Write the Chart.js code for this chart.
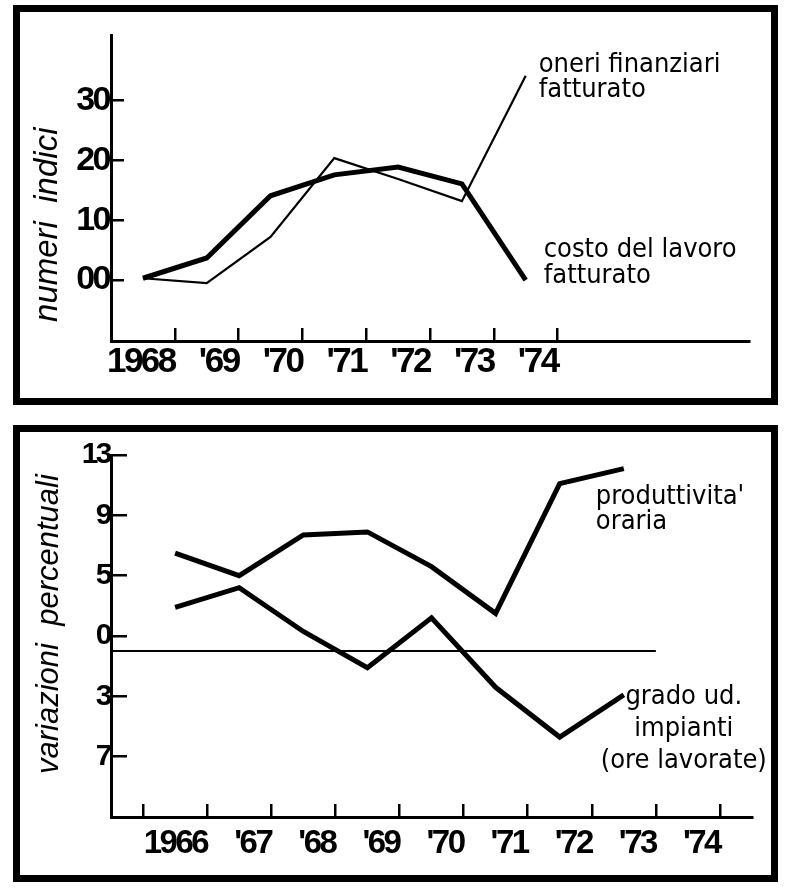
<!DOCTYPE html>
<html>
<head>
<meta charset="utf-8">
<script src="https://cdn.jsdelivr.net/npm/chart.js@4.4.1/dist/chart.umd.min.js"></script>
<style>
  body { margin: 0; background: #fff; }
  .frame { position: absolute; left: 13px; width: 751px; border: 7px solid #000; background: #fff; }
  #f1 { top: 5px; height: 386px; }
  #f2 { top: 425px; height: 443px; }
  canvas { display: block; }
</style>
</head>
<body>
<div class="frame" id="f1"><canvas id="c1" width="751" height="386"></canvas></div>
<div class="frame" id="f2"><canvas id="c2" width="751" height="443"></canvas></div>
<script>
// top panel: numeri indici
var years1 = ['1968', "'69", "'70", "'71", "'72", "'73", "'74"];
var costoLavoro = [0.3, 3.7, 14.1, 17.6, 18.9, 16.1, 0];
var oneriFinanziari = [0.3, -0.5, 7.2, 20.4, 16.9, 13.2, 34.2];
var yTicks1 = [0, 10, 20, 30];
var yLabels1 = ['00', '10', '20', '30'];

// bottom panel: variazioni percentuali
var years2 = ['1966', "'67", "'68", "'69", "'70", "'71", "'72", "'73", "'74"];
var produttivita = [6.5, 5.0, 7.7, 7.9, 5.6, 2.5, 11.1, 12.1];
var gradoUtilizzo = [2.9, 4.2, 1.3, -1.1, 2.2, -2.4, -5.7, -2.9];
var yTicks2 = [13, 9, 5, 1, -3, -7];
var yLabels2 = ['13', '9', '5', '0', '3', '7'];

var tickFamily = "'Liberation Sans', Arial, sans-serif";
var handFont = "'DejaVu Sans Condensed', 'DejaVu Sans', sans-serif";

// text notes next to the lines + rotated axis title
var notesPlugin = {
  id: 'notes',
  beforeDraw: function(chart) {
    // tight, condensed look for the tick numbers
    chart.ctx.letterSpacing = '-2.5px';
  },
  afterDatasetsDraw: function(chart, args, opts) {
    var ctx = chart.ctx;
    var area = chart.chartArea;
    ctx.save();
    ctx.letterSpacing = '0px';
    ctx.fillStyle = '#000';
    ctx.textBaseline = 'alphabetic';
    (opts.items || []).forEach(function(n) {
      var meta = chart.getDatasetMeta(n.dataset);
      var pt = meta.data[meta.data.length - 1];
      ctx.font = n.font;
      ctx.textAlign = n.align;
      n.lines.forEach(function(t, k) {
        ctx.fillText(t, pt.x + n.dx, pt.y + n.dy + k * n.lh);
      });
    });
    if (opts.title) {
      var t = opts.title;
      ctx.translate(area.left + t.dx, area.top + t.pos * (area.bottom - area.top));
      ctx.rotate(-Math.PI / 2);
      ctx.font = t.font;
      ctx.textAlign = 'center';
      ctx.textBaseline = 'middle';
      ctx.fillText(t.text, 0, 0);
    }
    ctx.restore();
  },
  afterDraw: function(chart) {
    chart.ctx.letterSpacing = '0px';
  }
};

function pts(values, start) {
  return values.map(function(v, i) { return { x: i + start, y: v }; });
}

function xAxis(labels, min, max, tickVals, size, pad, h) {
  return {
    type: 'linear', min: min, max: max,
    afterBuildTicks: function(s) { s.ticks = tickVals.map(function(v) { return { value: v }; }); },
    afterFit: function(s) { s.height = h; s.paddingLeft = 0; s.paddingRight = 0; },
    ticks: {
      autoSkip: false, maxRotation: 0, align: 'end', padding: pad, color: '#000',
      font: { family: tickFamily, size: size, weight: 'bold' },
      callback: function(v, i) { return labels[i]; }
    },
    grid: { drawOnChartArea: false, drawTicks: true, tickLength: -13, lineWidth: 2.5, color: '#000' },
    border: { display: true, width: 3, color: '#000' }
  };
}

function yAxis(labels, min, max, tickVals, size, pad, tl, w) {
  return {
    type: 'linear', min: min, max: max,
    afterBuildTicks: function(s) { s.ticks = tickVals.map(function(v) { return { value: v }; }); },
    afterFit: function(s) { s.width = w; s.paddingTop = 0; s.paddingBottom = 0; },
    ticks: {
      padding: pad, color: '#000',
      font: { family: tickFamily, size: size, weight: 'bold' },
      callback: function(v, i) { return labels[i]; }
    },
    grid: { drawOnChartArea: false, drawTicks: true, tickLength: tl, lineWidth: 2.5, color: '#000' },
    border: { display: true, width: 3, color: '#000' }
  };
}

var ticksX1 = years1.map(function(y, i) { return i + 0.5; });
var ticksX2 = [0.5].concat(years2.map(function(y, i) { return i + 1.5; }));
var labelsX2 = [''].concat(years2);

new Chart(document.getElementById('c1'), {
  type: 'line',
  data: {
    datasets: [
      { label: 'costo del lavoro / fatturato', data: pts(costoLavoro, 0), borderColor: '#000', borderWidth: 5 },
      { label: 'oneri finanziari / fatturato', data: pts(oneriFinanziari, 0), borderColor: '#000', borderWidth: 2.2 }
    ]
  },
  options: {
    responsive: false, animation: false,
    layout: { padding: { left: 8, right: 22, top: 23, bottom: 0 } },
    elements: { point: { radius: 0 }, line: { tension: 0, borderJoinStyle: 'miter', fill: false } },
    plugins: {
      legend: { display: false }, tooltip: { enabled: false },
      notes: {
        title: { text: 'numeri  indici', dx: -63, pos: 0.62, font: "italic 33px " + tickFamily },
        items: [
          { dataset: 1, dx: 13, dy: -4, lh: 25, align: 'left', font: '27px ' + handFont, lines: ['oneri finanziari', 'fatturato'] },
          { dataset: 0, dx: 18, dy: -23, lh: 26, align: 'left', font: '27px ' + handFont, lines: ['costo del lavoro', 'fatturato'] }
        ]
      }
    },
    scales: {
      x: xAxis(years1, -0.5, 9.5, ticksX1, 35, 13, 57),
      y: yAxis(yLabels1, -10.2, 41, yTicks1, 34, 15, -13, 83)
    }
  },
  plugins: [notesPlugin]
});

new Chart(document.getElementById('c2'), {
  type: 'line',
  data: {
    datasets: [
      { label: 'produttivita oraria', data: pts(produttivita, 1), borderColor: '#000', borderWidth: 5 },
      { label: 'grado ud. impianti', data: pts(gradoUtilizzo, 1), borderColor: '#000', borderWidth: 5 },
      { label: 'zero', data: [{ x: 0, y: 0 }, { x: years2.length - 0.5, y: 0 }], borderColor: '#000', borderWidth: 2 }
    ]
  },
  options: {
    responsive: false, animation: false,
    layout: { padding: { left: 8, right: 19, top: 23, bottom: 0 } },
    elements: { point: { radius: 0 }, line: { tension: 0, borderJoinStyle: 'miter', fill: false } },
    plugins: {
      legend: { display: false }, tooltip: { enabled: false },
      notes: {
        title: { text: 'variazioni  percentuali', dx: -62, pos: 0.467, font: "italic 31px " + tickFamily },
        items: [
          { dataset: 0, dx: -28, dy: 35, lh: 25, align: 'left', font: '27px ' + handFont, lines: ["produttivita'", 'oraria'] },
          { dataset: 1, dx: 60, dy: 9, lh: 32, align: 'center', font: '27px ' + handFont, lines: ['grado ud.', 'impianti', '(ore lavorate)'] }
        ]
      }
    },
    scales: {
      x: xAxis(labelsX2, 0, 10, ticksX2, 33, 20, 58),
      y: yAxis(yLabels2, -11, 13, yTicks2, 30, 17, -16, 83)
    }
  },
  plugins: [notesPlugin]
});
</script>
</body>
</html>
